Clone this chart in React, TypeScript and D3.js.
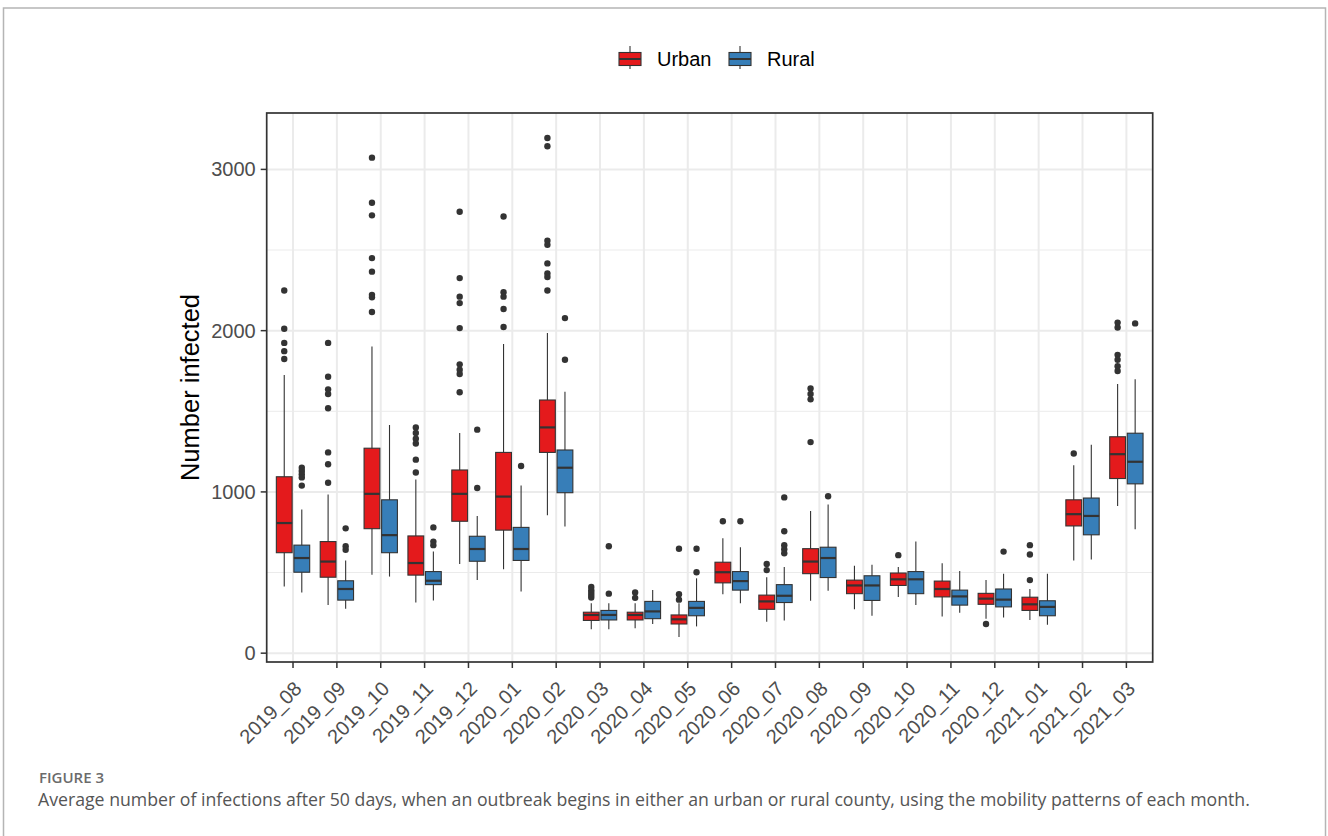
import React from 'react';
import * as d3 from 'd3';

const months = [
  '2019_08', '2019_09', '2019_10', '2019_11', '2019_12', '2020_01', '2020_02',
  '2020_03', '2020_04', '2020_05', '2020_06', '2020_07', '2020_08', '2020_09',
  '2020_10', '2020_11', '2020_12', '2021_01', '2021_02', '2021_03',
];
const groups = ['Urban', 'Rural'];
const groupColors = ['#E41A1C', '#377EB8'];

// [lower whisker, q1, median, q3, upper whisker]
const urbanBoxes = [
  [413, 623, 807, 1094, 1725],
  [298, 471, 568, 692, 984],
  [486, 772, 988, 1271, 1901],
  [314, 484, 559, 727, 1077],
  [553, 818, 988, 1136, 1366],
  [520, 763, 971, 1245, 1917],
  [856, 1245, 1400, 1570, 1985],
  [148, 203, 237, 254, 310],
  [155, 206, 237, 254, 310],
  [100, 181, 210, 237, 310],
  [365, 436, 502, 564, 712],
  [195, 272, 321, 360, 471],
  [325, 493, 568, 648, 882],
  [272, 369, 420, 453, 542],
  [349, 420, 458, 497, 535],
  [228, 349, 398, 447, 557],
  [214, 303, 338, 371, 453],
  [206, 265, 303, 347, 398],
  [575, 789, 862, 951, 1165],
  [913, 1083, 1234, 1342, 1669],
];
const urbanOutliers = [
  [2249, 2012, 1924, 1873, 1824],
  [1924, 1714, 1636, 1607, 1519, 1245, 1172, 1057],
  [3073, 2793, 2715, 2450, 2366, 2222, 2207, 2116],
  [1400, 1365, 1330, 1300, 1200, 1120],
  [2737, 2326, 2211, 2171, 2016, 1791, 1758, 1731, 1618],
  [2708, 2238, 2211, 2134, 2023],
  [3195, 3144, 2558, 2532, 2417, 2355, 2333, 2249],
  [410, 390, 375, 360, 345],
  [376, 343],
  [648, 365, 332],
  [818],
  [553, 515],
  [1641, 1607, 1574, 1309],
  [],
  [608],
  [],
  [181],
  [670, 612, 453],
  [1238],
  [2050, 2020, 1850, 1820, 1780, 1750],
];

const ruralBoxes = [
  [376, 502, 590, 670, 891],
  [276, 329, 398, 449, 575],
  [475, 623, 732, 951, 1415],
  [327, 425, 449, 506, 630],
  [453, 570, 646, 725, 851],
  [383, 575, 646, 780, 1039],
  [785, 995, 1150, 1260, 1621],
  [148, 206, 237, 265, 310],
  [181, 214, 259, 321, 391],
  [166, 232, 281, 321, 464],
  [310, 391, 447, 506, 657],
  [203, 314, 356, 425, 535],
  [387, 469, 590, 657, 922],
  [232, 327, 420, 480, 548],
  [298, 369, 458, 506, 692],
  [250, 298, 352, 391, 509],
  [221, 287, 332, 398, 493],
  [177, 232, 287, 325, 493],
  [581, 734, 851, 962, 1293],
  [769, 1050, 1187, 1364, 1698],
];
const ruralOutliers = [
  [1150, 1130, 1110, 1090, 1039],
  [774, 663, 641],
  [],
  [780, 692, 670],
  [1386, 1024],
  [1161],
  [2078, 1820],
  [663, 369],
  [],
  [648, 502],
  [818],
  [966, 756, 670, 645, 620],
  [973],
  [],
  [],
  [],
  [630],
  [],
  [],
  [2045],
];

const yTicks = [0, 1000, 2000, 3000];
const yMinor = [500, 1500, 2500];

const caption =
  'Average number of infections after 50 days, when an outbreak begins in either an urban or rural county, using the mobility patterns of each month.';

const W = 1328;
const H = 836;
const panel = { left: 266.7, right: 1152.7, top: 113, bottom: 662 };
const font = '"Liberation Sans", Arial, sans-serif';
const dark = '#333333';
const grid = '#ebebeb';

export default function App() {
  const boxes = [urbanBoxes, ruralBoxes];
  const outliers = [urbanOutliers, ruralOutliers];

  const x = d3.scalePoint<string>().domain(months).range([panel.left, panel.right]).padding(0.6);
  const step = x.step();
  const xg = d3
    .scaleBand<string>()
    .domain(groups)
    .range([-0.4 * step, 0.4 * step])
    .paddingInner(0.1)
    .paddingOuter(0.05);
  const bw = xg.bandwidth();

  const all = [...boxes.flat(2), ...outliers.flat(2)];
  const [lo, hi] = d3.extent(all) as [number, number];
  const pad = (hi - lo) * 0.05;
  const y = d3.scaleLinear().domain([lo - pad, hi + pad]).range([panel.bottom, panel.top]);

  return (
    <div style={{ position: 'absolute', left: 0, top: 0 }}>
      <svg width={W} height={H} style={{ display: 'block', background: '#fff' }}>
        <rect x={3.5} y={8} width={1322} height={H} fill="none" stroke="#b5b5b5" strokeWidth={1.5} />

        {/* grid */}
        {yMinor.map((v) => (
          <line key={'mn' + v} x1={panel.left} x2={panel.right} y1={y(v)} y2={y(v)} stroke={grid} strokeWidth={1} />
        ))}
        {yTicks.map((v) => (
          <line key={'mj' + v} x1={panel.left} x2={panel.right} y1={y(v)} y2={y(v)} stroke={grid} strokeWidth={2} />
        ))}
        {months.map((m) => (
          <line key={'vx' + m} x1={x(m)} x2={x(m)} y1={panel.top} y2={panel.bottom} stroke={grid} strokeWidth={2} />
        ))}

        {/* boxplots */}
        {groups.map((g, gi) =>
          months.map((m, i) => {
            const [wl, q1, med, q3, wh] = boxes[gi][i];
            const x0 = (x(m) as number) + (xg(g) as number);
            const cx = x0 + bw / 2;
            return (
              <g key={g + m}>
                <line x1={cx} x2={cx} y1={y(wl)} y2={y(wh)} stroke={dark} strokeWidth={1.1} />
                <rect
                  x={x0}
                  y={y(q3)}
                  width={bw}
                  height={y(q1) - y(q3)}
                  fill={groupColors[gi]}
                  stroke={dark}
                  strokeWidth={1.1}
                />
                <line x1={x0} x2={x0 + bw} y1={y(med)} y2={y(med)} stroke={dark} strokeWidth={2.2} />
                {outliers[gi][i].map((v, k) => (
                  <circle key={k} cx={cx} cy={y(v)} r={3.2} fill={dark} />
                ))}
              </g>
            );
          })
        )}

        {/* panel border */}
        <rect
          x={panel.left}
          y={panel.top}
          width={panel.right - panel.left}
          height={panel.bottom - panel.top}
          fill="none"
          stroke={dark}
          strokeWidth={1.7}
        />

        {/* y axis */}
        {yTicks.map((v) => (
          <g key={'yt' + v}>
            <line x1={panel.left - 6} x2={panel.left} y1={y(v)} y2={y(v)} stroke={dark} strokeWidth={1.5} />
            <text
              x={panel.left - 11}
              y={y(v)}
              dy="0.35em"
              textAnchor="end"
              fontFamily={font}
              fontSize={20}
              fill="#4d4d4d"
            >
              {v}
            </text>
          </g>
        ))}

        {/* x axis */}
        {months.map((m) => {
          const tx = x(m) as number;
          const ty = panel.bottom + 18;
          return (
            <g key={'xt' + m}>
              <line x1={tx} x2={tx} y1={panel.bottom} y2={panel.bottom + 6} stroke={dark} strokeWidth={1.5} />
              <text
                x={tx}
                y={ty}
                dy="0.7em"
                textAnchor="end"
                transform={`rotate(-45, ${tx}, ${ty})`}
                fontFamily={font}
                fontSize={20}
                fill="#4d4d4d"
              >
                {m}
              </text>
            </g>
          );
        })}

        {/* y title */}
        <text
          transform={`translate(199, ${(panel.top + panel.bottom) / 2}) rotate(-90)`}
          textAnchor="middle"
          fontFamily={font}
          fontSize={25.5}
          fill="#000"
        >
          Number infected
        </text>

        {/* legend */}
        {groups.map((g, gi) => {
          const kx = [619, 729][gi];
          return (
            <g key={'lg' + g}>
              <line x1={kx + 11} x2={kx + 11} y1={46} y2={69} stroke={dark} strokeWidth={1.1} />
              <rect x={kx} y={52.5} width={22} height={13} fill={groupColors[gi]} stroke={dark} strokeWidth={1.1} />
              <line x1={kx} x2={kx + 22} y1={59} y2={59} stroke={dark} strokeWidth={2} />
              <text x={kx + 38} y={59} dy="0.36em" fontFamily={font} fontSize={20} fill="#000">
                {g}
              </text>
            </g>
          );
        })}

        {/* caption */}
        <text x={39} y={783} fontFamily='"Open Sans", sans-serif' fontSize={15} fontWeight={600} fill="#6b6b6b">
          FIGURE 3
        </text>
        <text x={38} y={806} fontFamily='"Open Sans", sans-serif' fontSize={17.7} fill="#555">
          {caption}
        </text>
      </svg>
    </div>
  );
}
